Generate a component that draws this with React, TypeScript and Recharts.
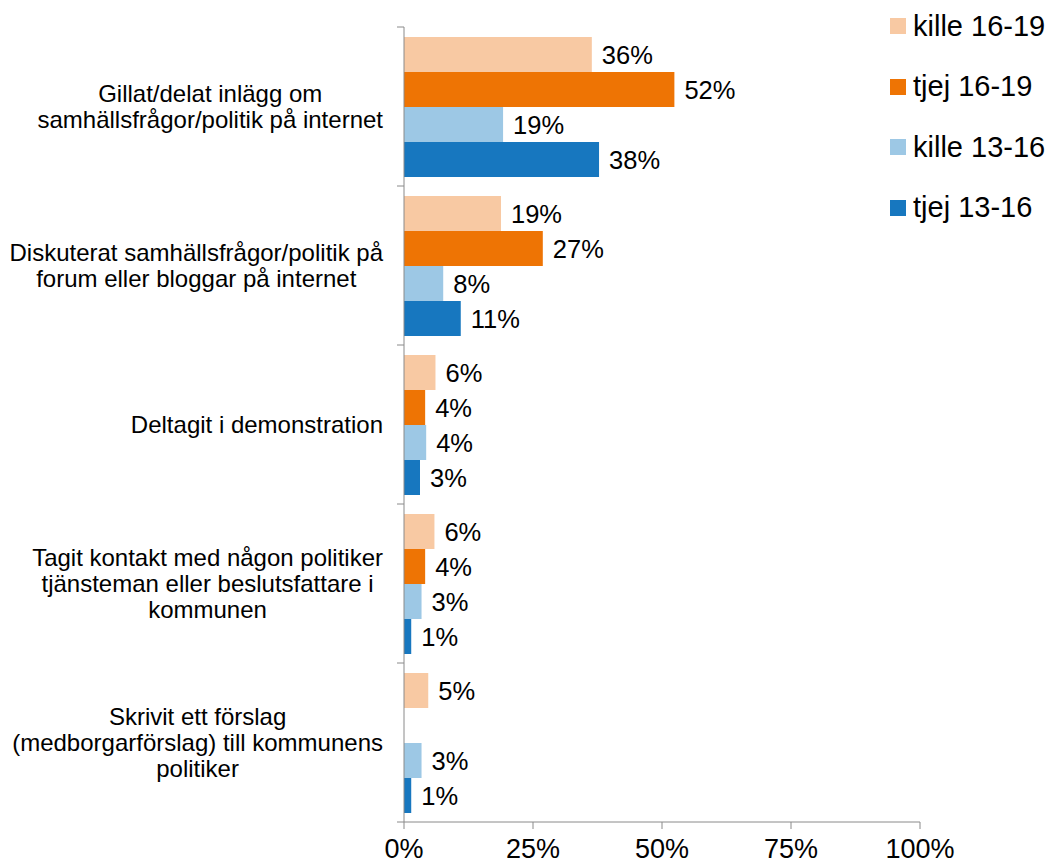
import React from 'react';
import { BarChart, Bar, XAxis, YAxis, LabelList } from 'recharts';

const categories = [
  'Gillat/delat inlägg om\nsamhällsfrågor/politik på internet',
  'Diskuterat samhällsfrågor/politik på\nforum eller bloggar på internet',
  'Deltagit i demonstration',
  'Tagit kontakt med någon politiker\ntjänsteman eller beslutsfattare i\nkommunen',
  'Skrivit ett förslag\n(medborgarförslag) till kommunens\npolitiker',
];

const kille1619 = [36.4, 18.8, 6.1, 5.9, 4.7];
const tjej1619: (number | null)[] = [52.4, 26.9, 4.1, 4.1, null];
const kille1316 = [19.2, 7.6, 4.3, 3.4, 3.4];
const tjej1316 = [37.8, 11.0, 3.1, 1.4, 1.4];

const xTicks = [0, 25, 50, 75, 100];

const series = [
  { key: 'kille1619', name: 'kille 16-19', color: '#F8C9A3', values: kille1619 },
  { key: 'tjej1619', name: 'tjej 16-19', color: '#EE7404', values: tjej1619 },
  { key: 'kille1316', name: 'kille 13-16', color: '#9DC8E5', values: kille1316 },
  { key: 'tjej1316', name: 'tjej 13-16', color: '#1777BF', values: tjej1316 },
];

const data = categories.map((c, i) => {
  const row: Record<string, string | number | null> = { name: c };
  series.forEach(s => { row[s.key] = s.values[i]; });
  return row;
});

const FONT = '"Liberation Sans", Arial, sans-serif';
const W = 1052;
const H = 863;
const TOP = 27;
const PLOT_LEFT = 404;
const PLOT_BOTTOM = 822;
const AXIS = '#8a8a8a';
const CAT_FONT = 24;
const LINE_H = 26;

let ctx: CanvasRenderingContext2D | null = null;
const measure = (s: string) => {
  if (!ctx) ctx = document.createElement('canvas').getContext('2d');
  if (!ctx) return s.length * CAT_FONT * 0.5;
  ctx.font = `${CAT_FONT}px ${FONT}`;
  return ctx.measureText(s).width;
};

const band = (PLOT_BOTTOM - TOP) / categories.length;

// category labels: longest line right-aligned at x=383, the rest centred on it
const CategoryTick = (props: any) => {
  const { y, payload, index } = props;
  const lines: string[] = String(payload.value).split('\n');
  const maxW = Math.max(...lines.map(measure));
  const cx = 383 - maxW / 2;
  const top = y - ((lines.length - 1) * LINE_H) / 2;
  return (
    <g>
      <line x1={PLOT_LEFT - 7} x2={PLOT_LEFT} y1={y + band / 2} y2={y + band / 2} stroke={AXIS} />
      {index === 0 && (
        <line x1={PLOT_LEFT - 7} x2={PLOT_LEFT} y1={y - band / 2} y2={y - band / 2} stroke={AXIS} />
      )}
      <text x={cx} y={top} textAnchor="middle" fontSize={CAT_FONT} fontFamily={FONT} fill="#000">
        {lines.map((l, i) => (
          <tspan key={i} x={cx} y={top + i * LINE_H} dy="0.35em">{l}</tspan>
        ))}
      </text>
    </g>
  );
};

export default function App() {
  return (
    <div style={{ position: 'absolute', left: 0, top: 0, width: W, height: H, background: '#fff' }}>
      <BarChart
        width={W}
        height={H}
        data={data}
        layout="vertical"
        margin={{ top: TOP, right: W - 920, bottom: 0, left: 0 }}
        barGap={0}
        barSize={35}
      >
        <XAxis
          type="number"
          domain={[0, 100]}
          ticks={xTicks}
          height={H - PLOT_BOTTOM}
          tickFormatter={(v: number) => `${v}%`}
          stroke={AXIS}
          tickSize={7}
          tickMargin={10}
          tick={{ fill: '#000', fontSize: 27, fontFamily: FONT }}
          interval={0}
        />
        <YAxis
          type="category"
          dataKey="name"
          width={PLOT_LEFT}
          stroke={AXIS}
          tickLine={false}
          tick={<CategoryTick />}
          interval={0}
        />
        {series.map(s => (
          <Bar key={s.key} dataKey={s.key} name={s.name} fill={s.color} isAnimationActive={false}>
            <LabelList
              dataKey={s.key}
              position="right"
              offset={10}
              formatter={(v: any) => (v == null ? '' : `${Math.round(Number(v))}%`)}
              style={{ fill: '#000', fontSize: 25.5, fontFamily: FONT }}
            />
          </Bar>
        ))}
      </BarChart>
      <div style={{ position: 'absolute', left: 890, top: 0, fontFamily: FONT, fontSize: 29, color: '#000' }}>
        {series.map((s, i) => (
          <div
            key={s.key}
            style={{ position: 'absolute', top: 26 + i * 60.5 - 20, left: 0, height: 40, display: 'flex', alignItems: 'center', whiteSpace: 'nowrap' }}
          >
            <span style={{ width: 16, height: 16, background: s.color, display: 'inline-block', marginRight: 7 }} />
            <span>{s.name}</span>
          </div>
        ))}
      </div>
    </div>
  );
}
